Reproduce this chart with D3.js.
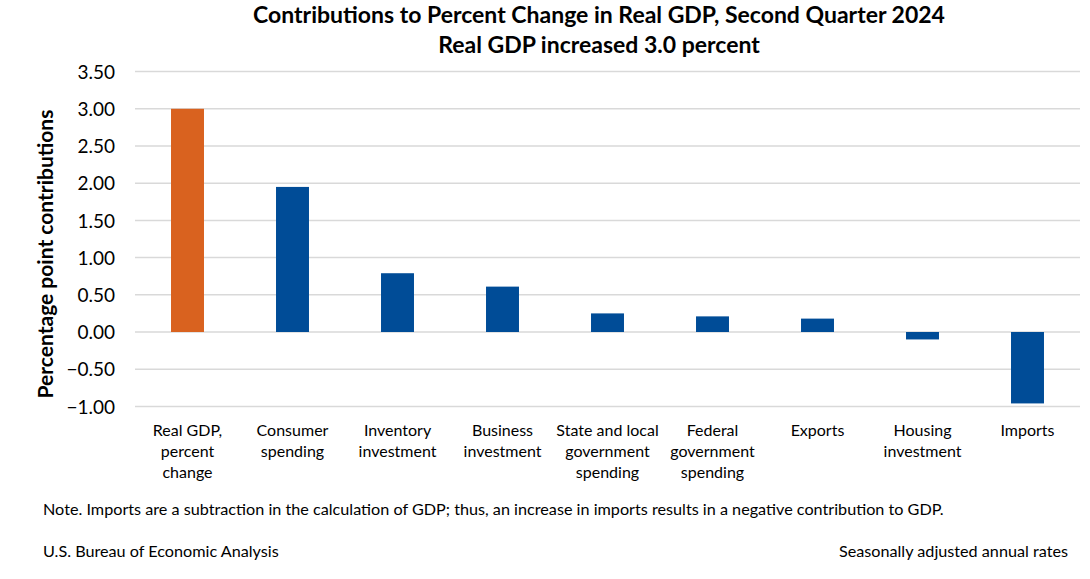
<!DOCTYPE html>
<html><head><meta charset="utf-8">
<script src="https://cdn.jsdelivr.net/npm/d3@7"></script>
<style>body{margin:0;background:#fff;} svg{display:block;font-family:Lato,"Open Sans",sans-serif;}</style>
</head><body>
<svg id="chart" width="1090" height="579"></svg>
<script>
const categories = [["Real GDP,","percent","change"],["Consumer","spending"],["Inventory","investment"],["Business","investment"],["State and local","government","spending"],["Federal","government","spending"],["Exports"],["Housing","investment"],["Imports"]];
const values = [3.00, 1.95, 0.79, 0.61, 0.25, 0.21, 0.18, -0.10, -0.96];
const yTicks = [-1.0, -0.5, 0, 0.5, 1.0, 1.5, 2.0, 2.5, 3.0, 3.5];
const titleLines = ["Contributions to Percent Change in Real GDP, Second Quarter 2024", "Real GDP increased 3.0 percent"];
const yLabel = "Percentage point contributions";
const note = "Note. Imports are a subtraction in the calculation of GDP; thus, an increase in imports results in a negative contribution to GDP.";
const sourceText = "U.S. Bureau of Economic Analysis";
const ratesText = "Seasonally adjusted annual rates";

const svg = d3.select("#chart");
const x = d3.scaleBand().domain(d3.range(categories.length)).range([135, 1080]).paddingInner(0.686).paddingOuter(0.343);
const y = d3.scaleLinear().domain([-1, 3.5]).range([406.4, 71.6]);

// gridlines
svg.append("g").selectAll("line").data(yTicks).join("line")
  .attr("x1", 135).attr("x2", 1080)
  .attr("y1", d => y(d)).attr("y2", d => y(d))
  .attr("stroke", "#d9d9d9").attr("stroke-width", 1.5);

// y axis labels
const yAxis = d3.axisLeft(y).tickValues(yTicks).tickFormat(d3.format(".2f")).tickSize(0).tickPadding(0);
const ga = svg.append("g").attr("transform", "translate(115,0)").call(yAxis);
ga.select(".domain").remove();
ga.selectAll("text").attr("font-size", 19).attr("fill", "#000").attr("font-family", "Lato, sans-serif").attr("dy", "0.35em");

// bars
svg.append("g").selectAll("rect").data(values).join("rect")
  .attr("x", (d, i) => x(i))
  .attr("width", x.bandwidth())
  .attr("y", d => y(Math.max(0, d)))
  .attr("height", d => Math.abs(y(d) - y(0)))
  .attr("fill", (d, i) => i === 0 ? "#d9621f" : "#004c97");

// category labels
const cl = svg.append("g").selectAll("text").data(categories).join("text")
  .attr("text-anchor", "middle").attr("font-size", 16).attr("fill", "#000")
  .attr("transform", (d, i) => `translate(${x(i) + x.bandwidth() / 2},436)`);
cl.selectAll("tspan").data(d => d).join("tspan")
  .attr("x", 0).attr("dy", (d, j) => j === 0 ? 0 : 21).text(d => d);

// title
svg.append("g").selectAll("text").data(titleLines).join("text")
  .attr("x", 599).attr("y", (d, i) => 23 + i * 30)
  .attr("text-anchor", "middle").attr("font-size", 23).attr("font-weight", "bold").text(d => d);

// y label
svg.append("text").attr("transform", "translate(53,254) rotate(-90)")
  .attr("text-anchor", "middle").attr("font-size", 21).attr("font-weight", "bold").text(yLabel);

svg.append("text").attr("x", 43).attr("y", 515).attr("font-size", 16.2).text(note);
svg.append("text").attr("x", 43).attr("y", 557).attr("font-size", 16.2).text(sourceText);
svg.append("text").attr("x", 1068).attr("y", 557).attr("text-anchor", "end").attr("font-size", 16.2).text(ratesText);
</script>
</body></html>
